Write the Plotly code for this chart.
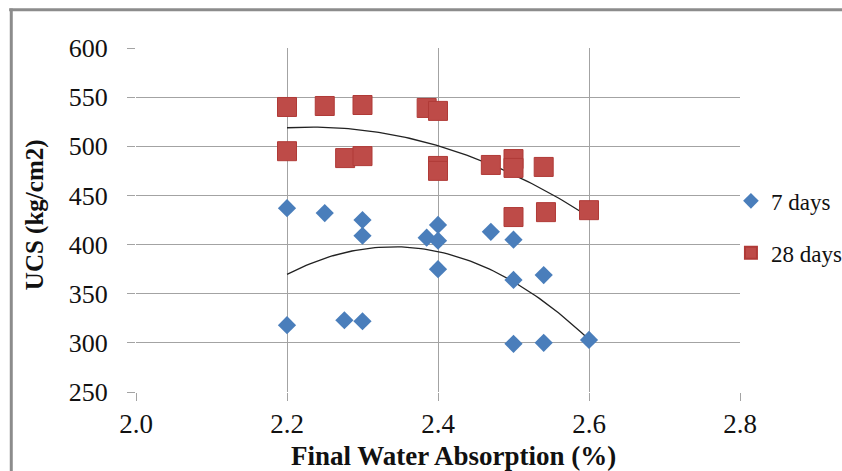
import numpy as np
import plotly.graph_objects as go

# ---- data ----
x7 = [2.20, 2.25, 2.30, 2.30, 2.40, 2.385, 2.40, 2.40, 2.47, 2.50, 2.50, 2.54,
      2.20, 2.276, 2.30, 2.50, 2.54, 2.60]
y7 = [437, 432, 425, 409, 420, 407, 404, 375, 413, 405, 364, 369,
      318, 323, 322, 299, 300, 303]

x28 = [2.20, 2.25, 2.30, 2.385, 2.40, 2.20, 2.277, 2.30, 2.40, 2.40, 2.47,
       2.50, 2.50, 2.54, 2.50, 2.543, 2.60]
y28 = [540, 541, 542, 539, 536, 495, 488, 490, 480, 475, 481,
       487, 478, 479, 428, 433, 435]

x_ticks = [2.0, 2.2, 2.4, 2.6, 2.8]
y_ticks = [250, 300, 350, 400, 450, 500, 550, 600]

x_title = "Final Water Absorption (%)"
y_title = "UCS (kg/cm2)"

BLUE = "#4a7ebb"
RED = "#be4b48"
GRID = "#a3a3a3"
FONT = "Liberation Serif"
TXT = "#111111"

fig = go.Figure()

# polynomial (order 2) trendlines fitted from the data
for xs, ys in ((x7, y7), (x28, y28)):
    c = np.polyfit(xs, ys, 2)
    xt = np.linspace(min(xs), max(xs), 80)
    fig.add_trace(go.Scatter(x=xt, y=np.polyval(c, xt), mode="lines",
                             line=dict(color="#222222", width=1.3),
                             showlegend=False, hoverinfo="skip"))

fig.add_trace(go.Scatter(x=x7, y=y7, mode="markers", name="7 days",
                         legendgroup="a",
                         marker=dict(symbol="diamond", size=14, color=BLUE,
                                     line=dict(width=0))))
fig.add_trace(go.Scatter(x=x28, y=y28, mode="markers", name="28 days",
                         legendgroup="b",
                         marker=dict(symbol="square", size=19, color=RED,
                                     line=dict(width=1, color="#b03a37"))))

fig.update_layout(
    width=842, height=471,
    margin=dict(l=136, r=102, t=48, b=79, autoexpand=False),
    paper_bgcolor="white", plot_bgcolor="white",
    font=dict(family=FONT, size=22, color=TXT),
    legend=dict(x=0.985, y=0.48, xanchor="left", yanchor="middle",
                font=dict(family=FONT, size=23, color=TXT),
                tracegroupgap=19, itemsizing="constant", itemwidth=30,
                bgcolor="rgba(0,0,0,0)"),
    xaxis=dict(range=[2.0, 2.8], tickvals=x_ticks,
               ticktext=[f"{v:.1f}" for v in x_ticks],
               showgrid=True, gridcolor=GRID, gridwidth=1,
               zeroline=False, showline=False,
               ticks="outside", ticklen=8, tickcolor=GRID,
               ticklabelstandoff=0,
               tickfont=dict(family=FONT, size=27, color=TXT)),
    yaxis=dict(range=[250, 600], tickvals=y_ticks,
               showgrid=True, gridcolor=GRID, gridwidth=1,
               zeroline=False, showline=False,
               ticks="outside", ticklen=8, tickcolor=GRID,
               ticklabelstandoff=14,
               tickfont=dict(family=FONT, size=26, color=TXT)),
    annotations=[
        dict(text=f"<b>{x_title}</b>", xref="paper", yref="paper",
             x=0.5257, y=-0.185, xanchor="center", yanchor="middle",
             showarrow=False, font=dict(family=FONT, size=27, color=TXT)),
        dict(text=f"<b>{y_title}</b>", xref="paper", yref="paper",
             x=-0.167, y=0.5145, xanchor="center", yanchor="middle",
             textangle=-90, showarrow=False,
             font=dict(family=FONT, size=25, color=TXT)),
    ],
    shapes=[
        dict(type="line", xref="paper", yref="paper",
             x0=-0.21, x1=1.2, y0=1.111, y1=1.111,
             line=dict(color="#8c8c8c", width=3)),
        dict(type="line", xref="paper", yref="paper",
             x0=-0.2065, x1=-0.2065, y0=-0.3, y1=1.115,
             line=dict(color="#8c8c8c", width=3)),
    ],
)

fig.write_html("out.html")
